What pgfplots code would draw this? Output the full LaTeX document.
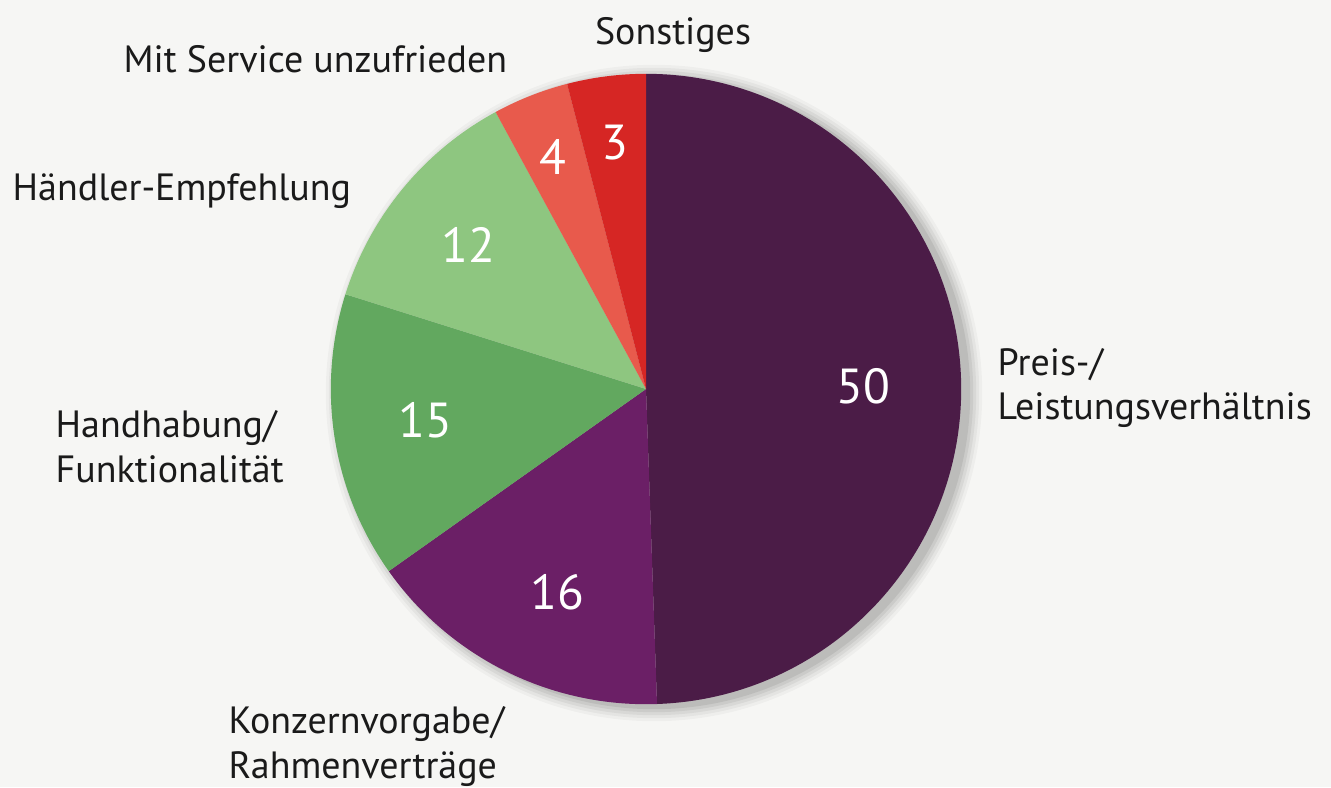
\documentclass[border=0pt]{standalone}
\usepackage{pgfplots}
\pgfplotsset{compat=1.18}
\usepackage{fontspec}
\setmainfont{PT Sans}
\definecolor{bg}{HTML}{F6F6F4}
\definecolor{cA}{HTML}{4B1C47}
\definecolor{cB}{HTML}{6B1F66}
\definecolor{cC}{HTML}{62A85F}
\definecolor{cD}{HTML}{8EC680}
\definecolor{cE}{HTML}{E85A4C}
\definecolor{cF}{HTML}{D62624}
\definecolor{txt}{HTML}{1A1A1A}
\begin{document}
\begin{tikzpicture}
\begin{axis}[x=0.01cm,y=0.01cm,xmin=0,xmax=1331,ymin=0,ymax=787,
  hide axis,scale only axis,clip=false,disabledatascaling]
\fill[bg] (axis cs:0,0) rectangle (axis cs:1331,787);
% soft shadow
\fill[black,opacity=0.03] (axis cs:654,394) circle[radius=3.28cm];
\fill[black,opacity=0.04] (axis cs:654,394) circle[radius=3.25cm];
\fill[black,opacity=0.05] (axis cs:654,394) circle[radius=3.22cm];
\fill[black,opacity=0.06] (axis cs:654,394) circle[radius=3.19cm];
\fill[black,opacity=0.07] (axis cs:654,394) circle[radius=3.16cm];
% slices (angles measured clockwise from top): 50,16,15,12,4,3
\fill[cA] (axis cs:646,398) -- ++(90:3.15cm) arc[start angle=90,end angle=-88,radius=3.15cm] -- cycle;
\fill[cB] (axis cs:646,398) -- ++(-88:3.15cm) arc[start angle=-88,end angle=-144.7,radius=3.15cm] -- cycle;
\fill[cC] (axis cs:646,398) -- ++(-144.7:3.15cm) arc[start angle=-144.7,end angle=-197.5,radius=3.15cm] -- cycle;
\fill[cD] (axis cs:646,398) -- ++(-197.5:3.15cm) arc[start angle=-197.5,end angle=-241.5,radius=3.15cm] -- cycle;
\fill[cE] (axis cs:646,398) -- ++(-241.5:3.15cm) arc[start angle=-241.5,end angle=-255.5,radius=3.15cm] -- cycle;
\fill[cF] (axis cs:646,398) -- ++(-255.5:3.15cm) arc[start angle=-255.5,end angle=-270,radius=3.15cm] -- cycle;
% values
\begin{scope}[every node/.style={text=white,inner sep=0pt,font=\fontsize{14}{16}\selectfont}]
\node at (axis cs:863,401) {50};
\node at (axis cs:557,195) {16};
\node at (axis cs:425,367) {15};
\node at (axis cs:468,542) {12};
\node at (axis cs:553,630) {4};
\node at (axis cs:615,644) {3};
\end{scope}
% labels
\begin{scope}[every node/.style={text=txt,inner sep=0pt,font=\fontsize{10.8}{13}\selectfont}]
\node[anchor=base] at (axis cs:673,742) {Sonstiges};
\node[anchor=base west] at (axis cs:123,715) {Mit Service unzufrieden};
\node[anchor=base west] at (axis cs:12,587) {Händler-Empfehlung};
\node[anchor=base west] at (axis cs:55,350) {Handhabung/};
\node[anchor=base west] at (axis cs:55,305) {Funktionalität};
\node[anchor=base west] at (axis cs:228,54) {Konzernvorgabe/};
\node[anchor=base west] at (axis cs:228,9) {Rahmenverträge};
\node[anchor=base west] at (axis cs:997,412) {Preis-/};
\node[anchor=base west] at (axis cs:997,368) {Leistungsverhältnis};
\end{scope}
\end{axis}
\end{tikzpicture}
\end{document}
